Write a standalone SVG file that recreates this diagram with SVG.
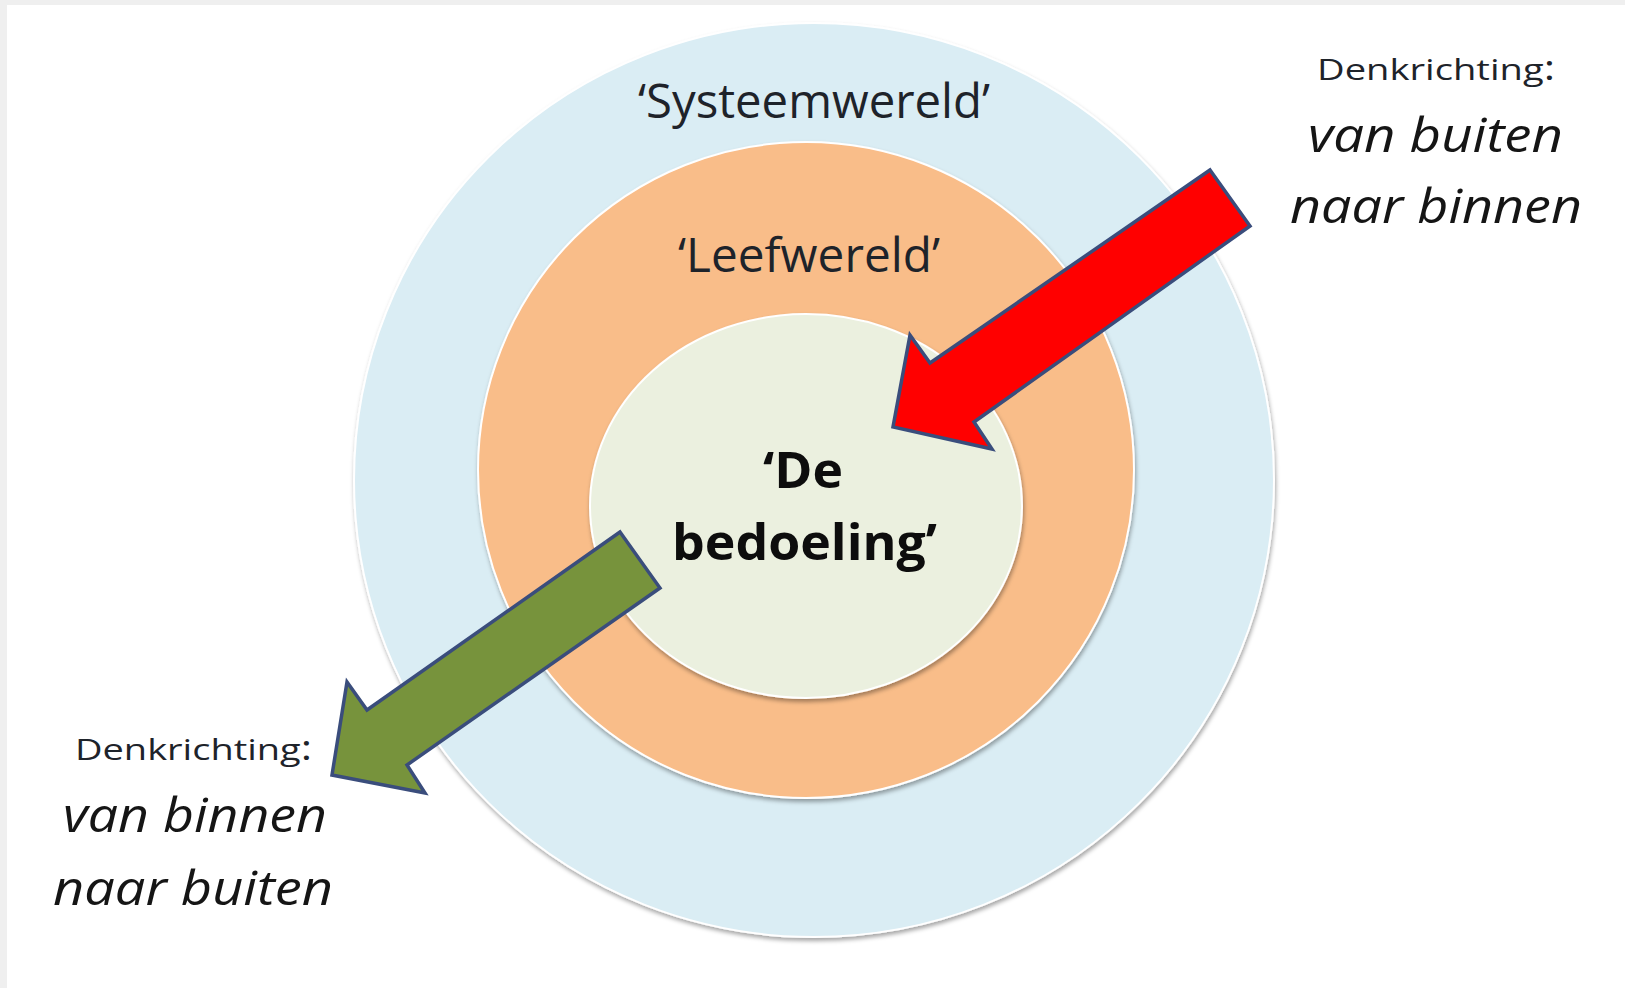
<svg xmlns="http://www.w3.org/2000/svg" width="1625" height="988" viewBox="0 0 1625 988">
<defs>
<filter id="sh" x="-10%" y="-10%" width="120%" height="125%">
<feDropShadow dx="1" dy="3" stdDeviation="2" flood-color="#000" flood-opacity="0.35"/>
</filter>
<style>
.ring{stroke:#ffffff;stroke-width:2;filter:url(#sh)}
.lbl{font-family:"Open Sans","Liberation Sans",sans-serif;fill:#1e232a}
.reg{font-size:47px}
.bold{font-size:50px;font-weight:bold;fill:#0d0d0d}
.small{font-size:30px}
.ital{font-size:47px;font-style:italic;fill:#151515}
.arrow{stroke:#3a4d7c;stroke-width:3.5;stroke-linejoin:miter}
</style>
</defs>
<rect x="0" y="0" width="1625" height="988" fill="#ffffff"/>
<rect x="0" y="0" width="1625" height="5" fill="#efefef"/>
<rect x="0" y="0" width="7" height="988" fill="#efefef"/>

<g id="systeemwereld">
<ellipse class="ring" cx="814" cy="480" rx="460" ry="457" fill="#daedf4"/>
<text class="lbl reg" x="638" y="118" textLength="352" lengthAdjust="spacingAndGlyphs">‘Systeemwereld’</text>
</g>
<g id="leefwereld">
<circle class="ring" cx="806" cy="470" r="328" fill="#f9bd89"/>
<text class="lbl reg" x="678" y="272" textLength="262" lengthAdjust="spacingAndGlyphs">‘Leefwereld’</text>
</g>
<g id="bedoeling">
<ellipse class="ring" cx="806" cy="506" rx="216" ry="192" fill="#ebf0df"/>
<text class="lbl bold" x="763" y="488" textLength="80" lengthAdjust="spacingAndGlyphs">‘De</text>
<text class="lbl bold" x="672" y="560" textLength="265" lengthAdjust="spacingAndGlyphs">bedoeling’</text>
</g>

<g id="connectors">
<polygon id="arrow-in" class="arrow" fill="#ff0000" points="1210,170 1250,226 974,422 992,449 893,427 910,335 930,363"/>
<polygon id="arrow-out" class="arrow" fill="#77933c" points="620,532 660,588 407,765 425,793 332,775 347,682 367,710"/>
</g>

<g id="label-in">
<text class="lbl small" x="1317" y="80" textLength="238" lengthAdjust="spacingAndGlyphs">Denkrichting<tspan font-size="34">:</tspan></text>
<text class="lbl ital" x="1308" y="152" textLength="255" lengthAdjust="spacingAndGlyphs">van buiten</text>
<text class="lbl ital" x="1290" y="223" textLength="292" lengthAdjust="spacingAndGlyphs">naar binnen</text>
</g>
<g id="label-out">
<text class="lbl small" x="75" y="760" textLength="237" lengthAdjust="spacingAndGlyphs">Denkrichting<tspan font-size="34">:</tspan></text>
<text class="lbl ital" x="63" y="832" textLength="264" lengthAdjust="spacingAndGlyphs">van binnen</text>
<text class="lbl ital" x="53" y="905" textLength="280" lengthAdjust="spacingAndGlyphs">naar buiten</text>
</g>
</svg>
